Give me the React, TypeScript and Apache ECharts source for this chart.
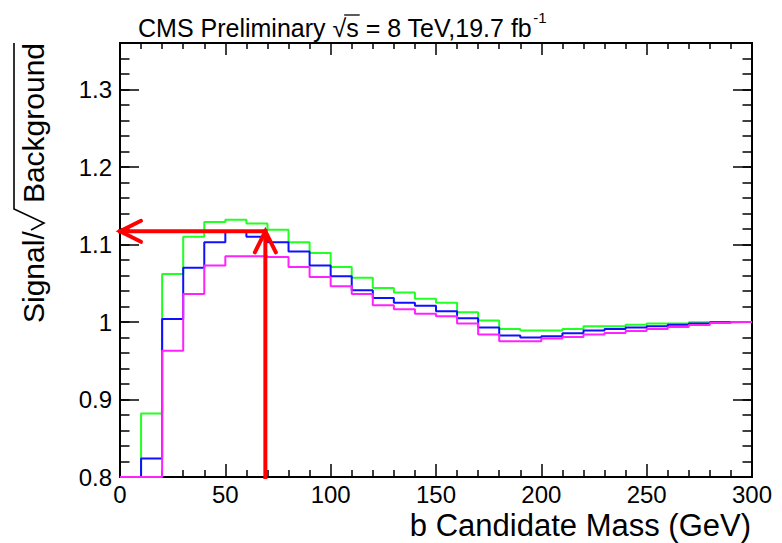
import React, { useEffect, useRef } from 'react';
import * as echarts from 'echarts';

// ---- data ----
const massEdges = [0, 10, 20, 30, 40, 50, 60, 70, 80, 90, 100, 110, 120, 130, 140, 150, 160, 170, 180, 190, 200, 210, 220, 230, 240, 250, 260, 270, 280, 290, 300];

// values per 10 GeV bin (values at or below 0.8 drawn at the frame floor)
const greenRatio = [0.8, 0.882, 1.062, 1.110, 1.129, 1.132, 1.127, 1.119, 1.103, 1.089, 1.071, 1.057, 1.044, 1.038, 1.030, 1.025, 1.0125, 1.002, 0.991, 0.989, 0.989, 0.991, 0.9945, 0.9945, 0.9966, 0.998, 0.998, 0.9996, 1.0, 1.0];
const blueRatio = [0.8, 0.824, 1.004, 1.070, 1.103, 1.116, 1.110, 1.103, 1.091, 1.073, 1.059, 1.041, 1.031, 1.025, 1.021, 1.014, 1.005, 0.993, 0.9825, 0.980, 0.9816, 0.9855, 0.989, 0.991, 0.993, 0.9945, 0.9966, 0.998, 0.9996, 1.0];
const magentaRatio = [0.8, 0.8, 0.963, 1.036, 1.073, 1.085, 1.085, 1.084, 1.071, 1.058, 1.046, 1.036, 1.0215, 1.0164, 1.0108, 1.0073, 0.998, 0.9838, 0.9751, 0.9751, 0.9786, 0.9807, 0.9838, 0.9859, 0.9884, 0.991, 0.9936, 0.9961, 0.9987, 1.0];

const arrowMass = 69;
const arrowLevel = 1.117;

const xRange = [0, 300];
const yRange = [0.8, 1.36];
const xMajorStep = 50;
const yMajorStep = 0.1;
const yMinorStep = 0.02;

const titleMain = 'CMS Preliminary \u221As = 8 TeV,19.7 fb';
const titleSup = '-1';
const titleSqrtPrefix = 'CMS Preliminary \u221A';
const xTitle = 'b Candidate Mass (GeV)';
const yTitleLeft = 'Signal/';
const yTitleRight = 'Background';

const FONT = '"Liberation Sans", Arial, Helvetica, sans-serif';

function textWidth(text: string, size: number): number {
  const ctx = document.createElement('canvas').getContext('2d') as CanvasRenderingContext2D;
  ctx.font = `${size}px "Liberation Sans", Arial, Helvetica, sans-serif`;
  return ctx.measureText(text).width;
}

function stepData(vals: number[]) {
  return massEdges.map((e, i) => [e, vals[Math.min(i, vals.length - 1)]]);
}

export default function App() {
  const ref = useRef<HTMLDivElement>(null);
  useEffect(() => {
    if (!ref.current) return;
    const chart = echarts.init(ref.current, null, { renderer: 'svg' });

    const titleX = 138;
    const titleSize = 25;
    const mainW = textWidth(titleMain, titleSize);
    const prefW = textWidth(titleSqrtPrefix, titleSize);
    const sW = textWidth('s', titleSize);

    const tickStyle = { color: '#000', width: 1.5 };
    const lineSeries = (name: string, vals: number[], color: string) => ({
      name,
      type: 'line',
      step: 'end',
      data: stepData(vals),
      showSymbol: false,
      symbol: 'none',
      lineStyle: { color, width: 2 },
      clip: true,
      z: 3,
    });

    const arrowData = [
      [arrowMass, arrowLevel, 0, arrowLevel],
      [arrowMass, yRange[0], arrowMass, arrowLevel],
    ];

    const option: any = {
      animation: false,
      grid: { left: 120, right: 30, top: 43, bottom: 66, show: true, borderColor: '#000', borderWidth: 2, backgroundColor: 'transparent' },
      xAxis: [
        {
          type: 'value', position: 'bottom', min: xRange[0], max: xRange[1], interval: xMajorStep,
          axisLine: { show: false }, splitLine: { show: false },
          axisTick: { show: true, inside: true, length: 13, lineStyle: tickStyle },
          minorTick: { show: true, splitNumber: 5, length: 7, lineStyle: tickStyle },
          axisLabel: { show: true, fontSize: 24, fontFamily: FONT, color: '#000', margin: 5, formatter: (v: number) => String(Math.round(v)) },
        },
        {
          type: 'value', position: 'top', min: xRange[0], max: xRange[1], interval: xMajorStep,
          axisLine: { show: false }, splitLine: { show: false },
          axisTick: { show: true, inside: true, length: 12, lineStyle: tickStyle },
          minorTick: { show: true, splitNumber: 5, length: 6, lineStyle: tickStyle },
          axisLabel: { show: false },
        },
      ],
      yAxis: [
        {
          type: 'value', position: 'left', min: yRange[0], max: yRange[1], interval: yMajorStep,
          axisLine: { show: false }, splitLine: { show: false },
          axisTick: { show: true, inside: true, length: 19, lineStyle: tickStyle },
          axisLabel: { show: true, fontSize: 24, fontFamily: FONT, color: '#000', margin: 8, showMaxLabel: false, formatter: (v: number) => String(+v.toFixed(2)) },
        },
        {
          type: 'value', position: 'left', min: yRange[0], max: yRange[1], interval: yMinorStep,
          axisLine: { show: false }, splitLine: { show: false },
          axisTick: { show: true, inside: true, length: 9.5, lineStyle: tickStyle },
          axisLabel: { show: false },
        },
        {
          type: 'value', position: 'right', min: yRange[0], max: yRange[1], interval: yMajorStep,
          axisLine: { show: false }, splitLine: { show: false },
          axisTick: { show: true, inside: true, length: 19, lineStyle: tickStyle },
          axisLabel: { show: false },
        },
        {
          type: 'value', position: 'right', min: yRange[0], max: yRange[1], interval: yMinorStep,
          axisLine: { show: false }, splitLine: { show: false },
          axisTick: { show: true, inside: true, length: 9.5, lineStyle: tickStyle },
          axisLabel: { show: false },
        },
      ],
      series: [
        lineSeries('green', greenRatio, '#22ff22'),
        lineSeries('blue', blueRatio, '#1010ff'),
        lineSeries('magenta', magentaRatio, '#ff22ff'),
        {
          type: 'custom',
          data: arrowData,
          encode: { x: [0, 2], y: [1, 3] },
          z: 5,
          renderItem: (params: any, api: any) => {
            const p0 = api.coord([api.value(0), api.value(1)]);
            const p1 = api.coord([api.value(2), api.value(3)]);
            const dx = p1[0] - p0[0];
            const dy = p1[1] - p0[1];
            const len = Math.sqrt(dx * dx + dy * dy) || 1;
            const ux = dx / len, uy = dy / len;
            const nx = -uy, ny = ux;
            const hl = 21, hw = 10.5;
            const a1 = [p1[0] - ux * hl + nx * hw, p1[1] - uy * hl + ny * hw];
            const a2 = [p1[0] - ux * hl - nx * hw, p1[1] - uy * hl - ny * hw];
            return {
              type: 'group',
              children: [
                { type: 'line', shape: { x1: p0[0], y1: p0[1], x2: p1[0], y2: p1[1] }, style: { stroke: '#ff0000', lineWidth: 4, lineCap: 'square' } },
                { type: 'polyline', shape: { points: [a1, p1, a2] }, style: { stroke: '#ff0000', lineWidth: 4, fill: null, lineCap: 'round', lineJoin: 'miter' } },
              ],
            };
          },
        },
      ],
      graphic: [
        { type: 'text', x: titleX, y: 28, style: { text: titleMain, fontSize: titleSize, fontFamily: FONT, fill: '#000', align: 'left', verticalAlign: 'middle' } },
        { type: 'text', x: titleX + mainW + 1, y: 17, style: { text: titleSup, fontSize: 15, fontFamily: FONT, fill: '#000', align: 'left', verticalAlign: 'middle' } },
        { type: 'line', shape: { x1: titleX + prefW - 2, y1: 15, x2: titleX + prefW + sW + 1, y2: 15 }, style: { stroke: '#000', lineWidth: 1.3 } },
        { type: 'text', x: 751, y: 525, style: { text: xTitle, fontSize: 31, fontFamily: FONT, fill: '#000', align: 'right', verticalAlign: 'middle' } },
        { type: 'text', x: 33, y: 43, rotation: Math.PI / 2, style: { text: yTitleRight, fontSize: 30, fontFamily: FONT, fill: '#000', align: 'right', verticalAlign: 'middle' } },
        { type: 'text', x: 33, y: 323, rotation: Math.PI / 2, style: { text: yTitleLeft, fontSize: 30, fontFamily: FONT, fill: '#000', align: 'left', verticalAlign: 'middle' } },
        { type: 'polyline', shape: { points: [[31, 230], [44, 223], [14, 209], [14, 43]] }, style: { stroke: '#000', lineWidth: 1.6, fill: null, lineJoin: 'miter' } },
      ],
    };
    chart.setOption(option);
    return () => chart.dispose();
  }, []);
  return <div ref={ref} style={{ position: 'fixed', left: 0, top: 0, width: 782, height: 543, background: '#fff' }} />;
}
